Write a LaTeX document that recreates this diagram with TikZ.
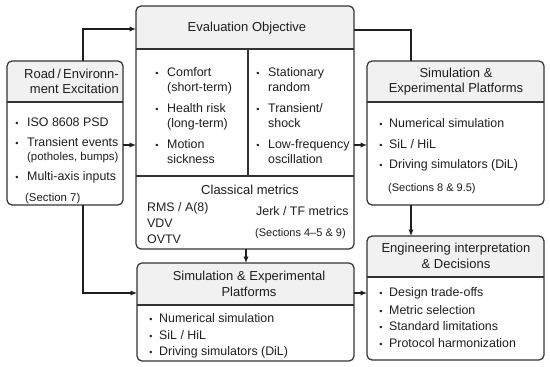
\documentclass[tikz,border=0pt]{standalone}
\usepackage{fontspec}
\setmainfont{Liberation Sans}
\usetikzlibrary{arrows.meta,fit}
\definecolor{hdrc}{HTML}{F1F1F1}
\definecolor{edgec}{HTML}{333333}
\definecolor{inkc}{HTML}{1E1E1E}
\tikzset{
  boxn/.style={inner sep=0pt, outer sep=0pt, draw=none},
  outline/.style={draw=edgec, line width=1.2pt, rounded corners=5pt},
  divl/.style={draw=edgec, line width=1.1pt},
  conn/.style={draw=inkc, line width=1.2pt},
  arr/.style={conn, -{Latex[length=6.5pt,width=5.5pt]}},
  hd/.style={inner sep=0pt, font=\fontsize{13}{15.5}\selectfont, text=inkc, anchor=base},
  tx/.style={inner sep=0pt, font=\fontsize{12.4}{15}\selectfont, text=inkc, anchor=base west},
  sm/.style={tx, font=\fontsize{11}{13}\selectfont},
  bul/.style={inner sep=0pt, font=\fontsize{9}{10}\selectfont, text=inkc, anchor=base},
}
\newcommand\mkbox[6]{%
  \node[boxn, fit={(#2,#3) (#4,#5)}] (#1) {};
  \begin{scope}
    \clip[rounded corners=5pt] (#2,#3) rectangle (#4,#5);
    \fill[hdrc] (#2,#3) rectangle (#4,#6);
  \end{scope}
  \draw[divl] (#2,#6) -- (#4,#6);
  \draw[outline] (#1.north west) rectangle (#1.south east);
}
\newcommand\mytx[4]{\node[tx] (#1) at (#2,#3) {#4};}
\newcommand\mysm[4]{\node[sm] (#1) at (#2,#3) {#4};}
\newcommand\mybu[3]{\node[bul] (#1) at (#2,#3) {•};}
\begin{document}
\begin{tikzpicture}[x=1pt,y=-1pt]
\useasboundingbox (0,0) rectangle (550,367);
\fill[white] (0,0) rectangle (550,367);

% boxes
\mkbox{road}{7}{61}{123}{205}{102}
\mkbox{eval}{136}{6}{354}{249}{49}
\mkbox{simr}{367}{61}{544}{205}{102}
\mkbox{eng}{367}{236}{544}{360}{277}
\mkbox{simb}{137}{263}{354}{361}{305}
\draw[divl] (248,49) -- (248,176);
\draw[divl] (136,176) -- (354,176);

% road box
\node[hd, anchor=base east] (roadh1) at (119,78.5) {Road\,/\,Environn-};
\node[hd, anchor=base east] (roadh2) at (119,93.5) {ment Excitation};
\mybu{rb1}{17}{126.5}\mytx{rt1}{27}{126.5}{ISO 8608 PSD}
\mybu{rb2}{17}{146.5}\mytx{rt2}{27}{146.5}{Transient events}
\node[tx, font=\fontsize{11.4}{13}\selectfont] (rt3) at (27,160.5) {(potholes, bumps)};
\mybu{rb4}{17}{180.5}\mytx{rt4}{27}{180.5}{Multi-axis inputs}
\node[tx, font=\fontsize{11.4}{13}\selectfont] (rt5) at (25,201) {(Section 7)};

% evaluation box
\node[hd] (evh) at (247,31.5) {Evaluation Objective};
\mybu{eb1}{157}{76}\mytx{et1}{167}{76}{Comfort}
\mytx{et2}{167}{91}{(short-term)}
\mybu{eb3}{157}{112}\mytx{et3}{167}{112}{Health risk}
\mytx{et4}{167}{127}{(long-term)}
\mybu{eb5}{157}{148}\mytx{et5}{167}{148}{Motion}
\mytx{et6}{167}{163}{sickness}
\mybu{fb1}{258}{76}\mytx{ft1}{268}{76}{Stationary}
\mytx{ft2}{268}{91}{random}
\mybu{fb3}{258}{112}\mytx{ft3}{268}{112}{Transient/}
\mytx{ft4}{268}{127}{shock}
\mybu{fb5}{258}{148}\mytx{ft5}{268}{148}{Low-frequency}
\mytx{ft6}{268}{163}{oscillation}
\node[hd] (cmh) at (250,194.5) {Classical metrics};
\mytx{cm1}{147}{211.5}{RMS / A(8)}
\mytx{cm2}{147}{227.5}{VDV}
\mytx{cm3}{147}{243.5}{OVTV}
\mytx{cm4}{256}{215}{Jerk / TF metrics}
\mysm{cm5}{255}{236}{(Sections 4–5 \& 9)}

% right simulation box
\node[hd] (srh1) at (456,77.5) {Simulation \&};
\node[hd] (srh2) at (456,92.5) {Experimental Platforms};
\mybu{sb1}{381}{127}\mytx{st1}{389}{127}{Numerical simulation}
\mybu{sb2}{381}{148.5}\mytx{st2}{389}{148.5}{SiL / HiL}
\mybu{sb3}{381}{168.5}\mytx{st3}{389}{168.5}{Driving simulators (DiL)}
\mysm{st4}{388}{191}{(Sections 8 \& 9.5)}

% bottom simulation box
\node[hd] (sbh1) at (249,280.5) {Simulation \& Experimental};
\node[hd] (sbh2) at (249,296.5) {Platforms};
\mybu{pb1}{151}{322}\mytx{pt1}{159}{322}{Numerical simulation}
\mybu{pb2}{151}{339.5}\mytx{pt2}{159}{339.5}{SiL / HiL}
\mybu{pb3}{151}{355.5}\mytx{pt3}{159}{355.5}{Driving simulators (DiL)}

% engineering box
\node[hd] (egh1) at (456,252) {Engineering interpretation};
\node[hd] (egh2) at (456,268) {\& Decisions};
\mybu{gb1}{381}{296.5}\mytx{gt1}{389}{296.5}{Design trade-offs}
\mybu{gb2}{381}{314.5}\mytx{gt2}{389}{314.5}{Metric selection}
\mybu{gb3}{381}{330.5}\mytx{gt3}{389}{330.5}{Standard limitations}
\mybu{gb4}{381}{347}\mytx{gt4}{389}{347}{Protocol harmonization}

% connectors
\draw[arr] (road.north -| 83,0) |- (eval.west |- 0,29);
\draw[arr] (road.east |- 0,145) -- (eval.west |- 0,145);
\draw[arr] (road.south -| 83,0) |- (simb.west |- 0,293);
\draw[conn] (eval.east |- 0,30) -| (simr.north -| 411,0);
\draw[arr] (eval.east |- 0,145) -- (simr.west |- 0,145);
\draw[arr] (simr.south -| 411,0) -- (eng.north -| 411,0);
\draw[arr] (eval.south -| 246,0) -- (simb.north -| 246,0);
\draw[arr] (simb.east |- 0,293) -- (eng.west |- 0,293);
\end{tikzpicture}
\end{document}
